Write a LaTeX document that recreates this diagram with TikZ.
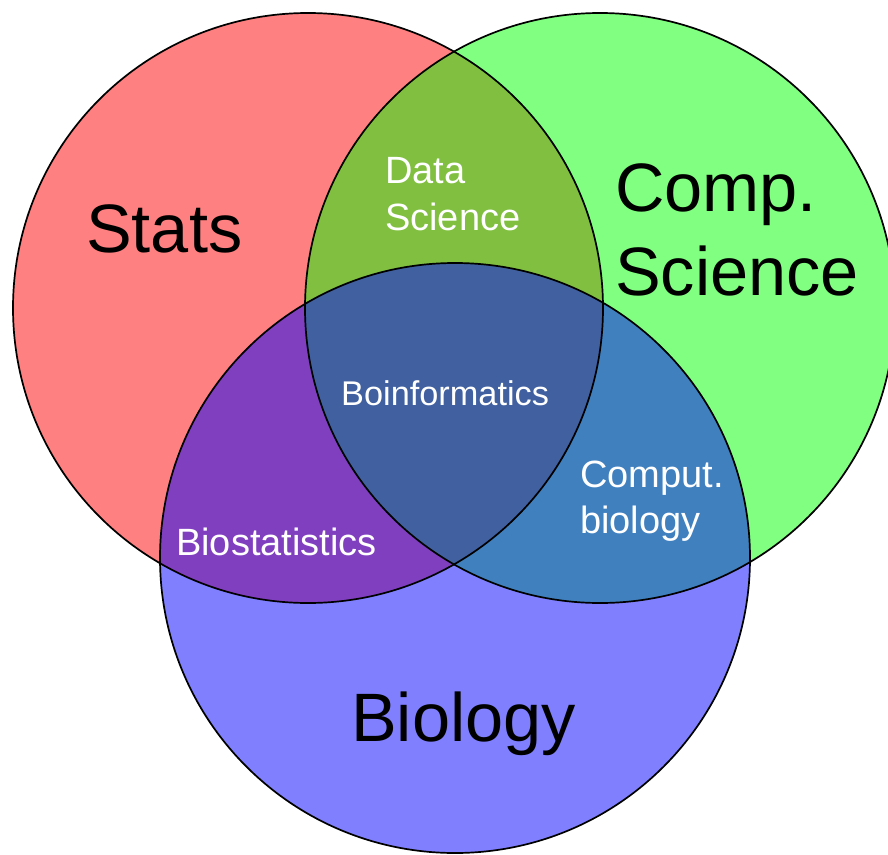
\documentclass[tikz,border=0pt]{standalone}
\usepackage{fontspec}
\setmainfont{Liberation Sans}
\definecolor{cred}{HTML}{FF8080}
\definecolor{cgreen}{HTML}{80FF80}
\definecolor{cblue}{HTML}{8080FF}
\definecolor{crg}{HTML}{80BF40}
\definecolor{crb}{HTML}{803FBF}
\definecolor{cgb}{HTML}{4080BF}
\definecolor{crgb}{HTML}{4060A0}
\tikzset{
  biglabel/.style={inner sep=0pt, anchor=base west, text=black, font=\fontsize{68.5bp}{80bp}\selectfont},
  smalllabel/.style={inner sep=0pt, anchor=base west, text=white, font=\fontsize{38bp}{44bp}\selectfont},
  outline/.style={draw=black, line width=1.7bp}
}
\begin{document}
\begin{tikzpicture}[x=1bp,y=-1bp]
\useasboundingbox (0,0) rectangle (888,855);
\def\rad{295}
\coordinate (cr) at (308,308);
\coordinate (cg) at (600,308);
\coordinate (cb) at (455,558);
% base fills
\fill[cred] (cr) circle[radius=\rad];
\fill[cgreen] (cg) circle[radius=\rad];
\fill[cblue] (cb) circle[radius=\rad];
% pairwise intersections
\begin{scope}
  \clip (cr) circle[radius=\rad];
  \fill[crg] (cg) circle[radius=\rad];
  \fill[crb] (cb) circle[radius=\rad];
\end{scope}
\begin{scope}
  \clip (cg) circle[radius=\rad];
  \fill[cgb] (cb) circle[radius=\rad];
\end{scope}
\begin{scope}
  \clip (cr) circle[radius=\rad];
  \clip (cg) circle[radius=\rad];
  \fill[crgb] (cb) circle[radius=\rad];
\end{scope}
% outlines
\draw[outline] (cr) circle[radius=\rad];
\draw[outline] (cg) circle[radius=\rad];
\draw[outline] (cb) circle[radius=\rad];
% labels
\node[biglabel] (stats) at (86,252) {Stats};
\node[biglabel] (comp) at (615,211) {Comp.};
\node[biglabel] (sci) at (615,295) {Science};
\node[biglabel] (bio) at (351,741) {Biology};
\node[smalllabel] (data) at (385,183) {Data};
\node[smalllabel] (dsci) at (385,230) {Science};
\node[smalllabel, font=\fontsize{34.3bp}{40bp}\selectfont] (binf) at (341,405) {Boinformatics};
\node[smalllabel] (bstat) at (176,555) {Biostatistics};
\node[smalllabel] (cput) at (580,487) {Comput.};
\node[smalllabel] (cbio) at (580,533) {biology};
\end{tikzpicture}
\end{document}
